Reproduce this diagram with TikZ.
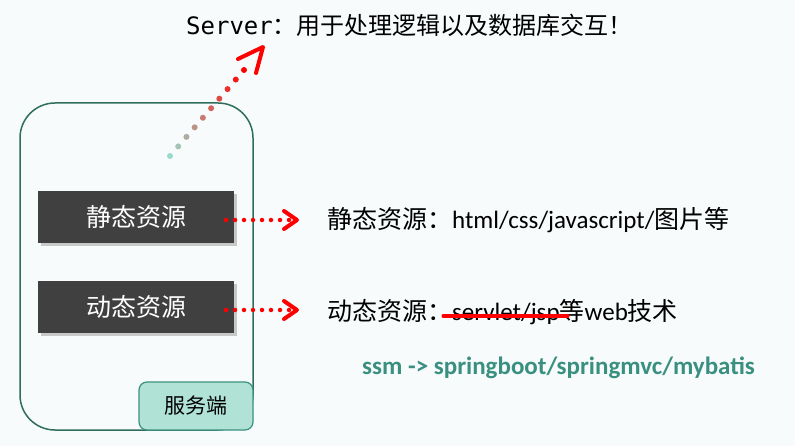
\documentclass[tikz,border=0pt]{standalone}
\usepackage{fontspec}
\setmainfont{Carlito}
\setmonofont{DejaVu Sans Mono}
\newfontfamily\cjk{Noto Sans CJK SC}
\usetikzlibrary{shadows,calc}
\definecolor{bg}{HTML}{F7FBFB}
\definecolor{frame}{HTML}{2E6E5A}
\definecolor{boxc}{HTML}{404040}
\definecolor{srv}{HTML}{B0E3D6}
\definecolor{ssm}{HTML}{3A9080}
\definecolor{tealdot}{HTML}{9ADCCB}
\begin{document}
\begin{tikzpicture}[x=1pt,y=-1pt,
  res/.style={draw=none,fill=boxc,text=white,minimum width=196pt,minimum height=52pt,font=\cjk\fontsize{25}{28}\selectfont,drop shadow={shadow xshift=3pt,shadow yshift=-3pt,opacity=.4}},
  lbl/.style={anchor=west,inner sep=0pt,font=\fontsize{25}{28}\selectfont},
  dots/.style={red,line width=4.5pt,line cap=round,dash pattern=on 0pt off 9pt},
  head/.style={red,line width=4pt,line cap=round,line join=round}]
\fill[bg] (0,0) rectangle (795,446);
\draw[frame,line width=1.5pt,rounded corners=35pt] (20,103) rectangle (253,430);
\node[res] (s) at (136,217) {静态资源};
\node[res] (d) at (136,307) {动态资源};
\node[draw=ssm,line width=1.2pt,fill=srv,rounded corners=8pt,minimum width=114pt,minimum height=48pt,font=\cjk\fontsize{21}{24}\selectfont] (f) at (196,406) {服务端};
\node[lbl] (st) at (327,220) {{\cjk 静态资源：}html/css/javascript/{\cjk 图片等}};
\node[lbl] (dt) at (327,312) {{\cjk 动态资源：}servlet/jsp{\cjk 等}web{\cjk 技术}};
\draw[red,line width=3pt,line cap=round] (443,316) -- (568,316);
\node[anchor=west,inner sep=0pt,text=ssm,font=\bfseries\fontsize{25}{28}\selectfont] (m) at (362,368) {ssm -> springboot/springmvc/mybatis};
\node[anchor=west,inner sep=0pt,font=\ttfamily\fontsize{24}{28}\selectfont] (t) at (186,25) {Server{\cjk ：用于处理逻辑以及数据库交互！}};
\coordinate (sa) at (226,220); \coordinate (sb) at (297,220);
\coordinate (da) at (226,310); \coordinate (db) at (297,310);
\draw[dots] (sa) -- ([xshift=-8pt]sb);
\draw[head] ([xshift=-13pt,yshift=-9pt]sb) -- (sb) -- ([xshift=-13pt,yshift=9pt]sb);
\draw[dots] (da) -- ([xshift=-8pt]db);
\draw[head] ([xshift=-13pt,yshift=-9pt]db) -- (db) -- ([xshift=-13pt,yshift=9pt]db);
\coordinate (ua) at (170,156); \coordinate (ub) at (244,70);
\foreach \i in {0,...,9}{
  \pgfmathsetmacro\p{\i*100/9}
  \fill[red!\p!tealdot] ($(ua)!\i/9!(ub)$) circle (3pt);
}
\coordinate (tip) at (263,47);
\draw[head,red] (238,59) -- (tip) -- (256,73);
\end{tikzpicture}
\end{document}
